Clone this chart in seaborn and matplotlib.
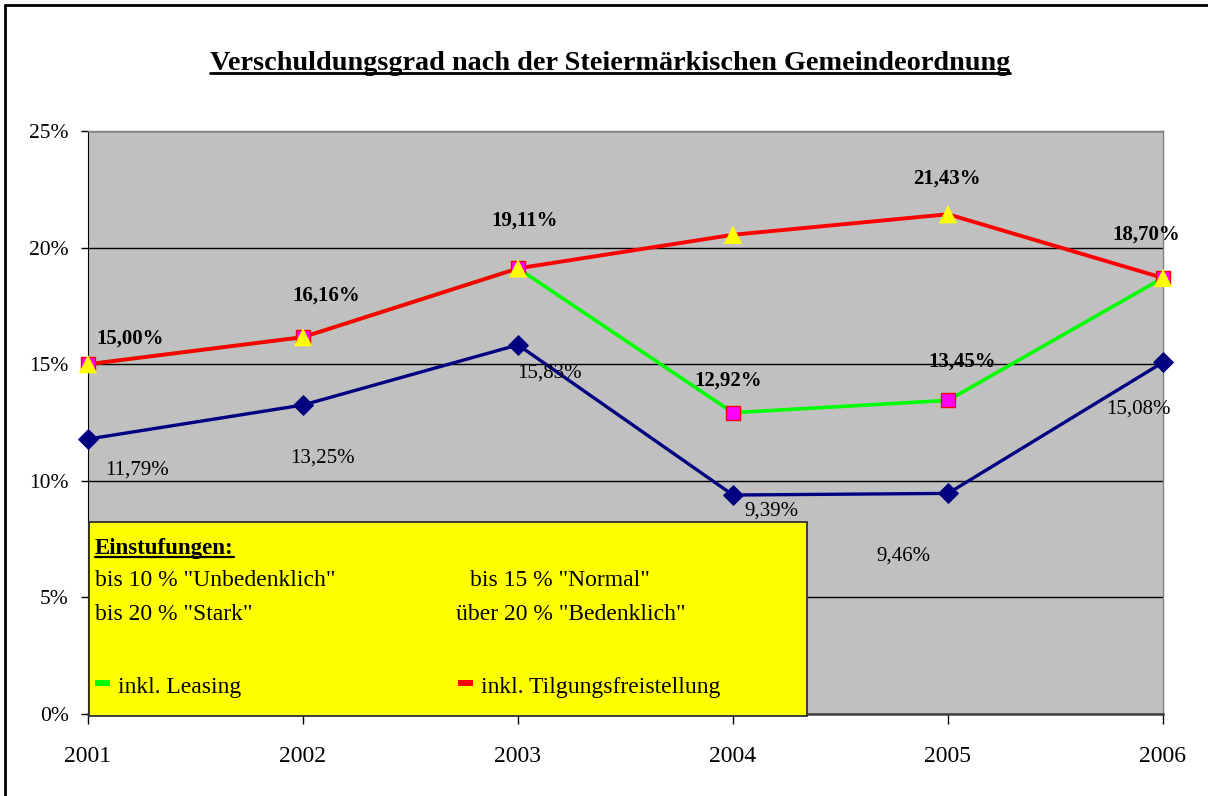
import matplotlib
matplotlib.use("Agg")
import pandas as pd
import matplotlib.pyplot as plt
import seaborn as sns
from matplotlib.patches import Rectangle
from matplotlib.lines import Line2D

# Daten
jahre = [2001, 2002, 2003, 2004, 2005, 2006]
verschuldung = [11.79, 13.25, 15.83, 9.39, 9.46, 15.08]
inkl_leasing = [15.00, 16.16, 19.11, 12.92, 13.45, 18.70]
inkl_tilgung = [15.00, 16.16, 19.11, 20.55, 21.43, 18.70]
ytick_werte = [0, 5, 10, 15, 20, 25]

titel = "Verschuldungsgrad nach der Steiermärkischen Gemeindeordnung"

W, H = 1208, 796
sns.set_style("white")
plt.rcParams["font.family"] = ["Liberation Serif", "DejaVu Serif"]
plt.rcParams["text.color"] = "black"
plt.rcParams["xtick.color"] = "black"
plt.rcParams["ytick.color"] = "black"


def fx(x):
    return x / W


def fy(y):
    return 1 - y / H


def pct(v):
    return f"{v:.2f}%".replace(".", ",")


fig = plt.figure(figsize=(W / 100, H / 100), dpi=100)
ax = fig.add_axes([fx(88), fy(714), (1163 - 88) / W, (714 - 131) / H])
ax.set_facecolor("#C0C0C0")

df = pd.DataFrame({"jahr": jahre, "basis": verschuldung,
                   "leasing": inkl_leasing, "tilgung": inkl_tilgung})

# Linien
sns.lineplot(data=df, x="jahr", y="basis", ax=ax, color="#000080", lw=2.4, zorder=3)
sns.lineplot(data=df, x="jahr", y="leasing", ax=ax, color="#00FF00", lw=2.6, zorder=3)
sns.lineplot(data=df, x="jahr", y="tilgung", ax=ax, color="#FF0000", lw=2.8, zorder=4)

# Marker
sns.scatterplot(data=df, x="jahr", y="basis", ax=ax, marker="D", s=100,
                color="#000080", edgecolor="#000080", zorder=5, clip_on=False)
sns.scatterplot(data=df, x="jahr", y="leasing", ax=ax, marker="s", s=115,
                color="#FF00FF", edgecolor="#FF0000", linewidth=1, zorder=5, clip_on=False)
sns.scatterplot(data=df, x="jahr", y="tilgung", ax=ax, marker="^", s=175,
                color="#FFFF00", edgecolor="none", zorder=6, clip_on=False)

ax.set_xlim(2001, 2006)
ax.set_ylim(0, 25)
ax.set_xticks(jahre)
ax.set_xticklabels([str(j) for j in jahre], fontsize=17)
ax.set_yticks(ytick_werte)
ax.set_yticklabels([f"{v}%" for v in ytick_werte], fontsize=15.5)
ax.set_xlabel("")
ax.set_ylabel("")
ax.grid(axis="y", color="black", lw=1)
ax.set_axisbelow(True)
ax.tick_params(axis="x", direction="out", length=7, width=1, pad=16, bottom=True)
ax.tick_params(axis="y", direction="out", length=5, width=1, pad=9, left=True)
ax.spines["left"].set_color("black")
ax.spines["bottom"].set_color("#404040")
ax.spines["bottom"].set_linewidth(1.8)
for s in ["top", "right"]:
    ax.spines[s].set_color("#808080")
    ax.spines[s].set_linewidth(1)

# Datenbeschriftungen (Versatz in Pixel)
off_basis = [(49, -31), (19, -53), (31, -28), (38, -16), (-45, -63), (-25, -47)]
off_leasing = [(42, 26), (23, 42), (7, 48), (-5, 32), (14, 39), (-17, 43)]
for j, v, (dx, dy) in zip(jahre, verschuldung, off_basis):
    ax.annotate(pct(v), (j, v), xytext=(dx * 0.72, dy * 0.72), textcoords="offset points",
                ha="center", va="center", fontsize=15, zorder=7, annotation_clip=False)
for j, v, (dx, dy) in zip(jahre, inkl_leasing, off_leasing):
    ax.annotate(pct(v), (j, v), xytext=(dx * 0.72, dy * 0.72), textcoords="offset points",
                ha="center", va="center", fontsize=15, fontweight="bold", zorder=7,
                annotation_clip=False)
ax.annotate(pct(inkl_tilgung[4]), (jahre[4], inkl_tilgung[4]), xytext=(-1 * 0.72, 36 * 0.72),
            textcoords="offset points", ha="center", va="center", fontsize=15,
            fontweight="bold", zorder=7)

# Titel
t = fig.text(fx(610), fy(70), titel, ha="center", va="baseline", fontsize=20.3,
             fontweight="bold")

# Einstufungen-Kasten
fig.add_artist(Rectangle((fx(89), fy(716)), (807 - 89) / W, (716 - 522) / H,
                         transform=fig.transFigure, fc="#FFFF00", ec="#303030", lw=1.3,
                         zorder=1))
e = fig.text(fx(95), fy(554), "Einstufungen:", ha="left", va="baseline", fontsize=16.5,
             fontweight="bold", zorder=2)
fs = 17
fig.text(fx(95), fy(580), 'bis 10 % "Unbedenklich"', va="center", fontsize=fs, zorder=2)
fig.text(fx(470), fy(580), 'bis 15 % "Normal"', va="center", fontsize=fs, zorder=2)
fig.text(fx(95), fy(615), 'bis 20 % "Stark"', va="center", fontsize=fs, zorder=2)
fig.text(fx(456), fy(615), 'über 20 % "Bedenklich"', va="center", fontsize=fs, zorder=2)
fig.add_artist(Rectangle((fx(95), fy(686)), 15 / W, 6 / H, transform=fig.transFigure,
                         fc="#00FF00", ec="none", zorder=2))
fig.add_artist(Rectangle((fx(458), fy(686)), 15 / W, 6 / H, transform=fig.transFigure,
                         fc="#FF0000", ec="none", zorder=2))
fig.text(fx(118), fy(688), "inkl. Leasing", va="center", fontsize=fs, zorder=2)
fig.text(fx(481), fy(688), "inkl. Tilgungsfreistellung", va="center", fontsize=fs, zorder=2)

# Rahmen
fig.add_artist(Line2D([fx(5), fx(5)], [0, fy(5)], transform=fig.transFigure, color="black", lw=2))
fig.add_artist(Line2D([fx(5), 1], [fy(5), fy(5)], transform=fig.transFigure, color="black", lw=2))

# Unterstreichungen
fig.canvas.draw()
r = fig.canvas.get_renderer()
for txt, gap, lw in [(t, 3, 2), (e, 3, 1.6)]:
    bb = txt.get_window_extent(r)
    x, y = txt.get_position()
    yline = y - gap / H
    fig.add_artist(Line2D([bb.x0 / W, bb.x1 / W], [yline, yline], transform=fig.transFigure,
                          color="black", lw=lw, zorder=3))

fig.savefig("out.png", dpi=100)
